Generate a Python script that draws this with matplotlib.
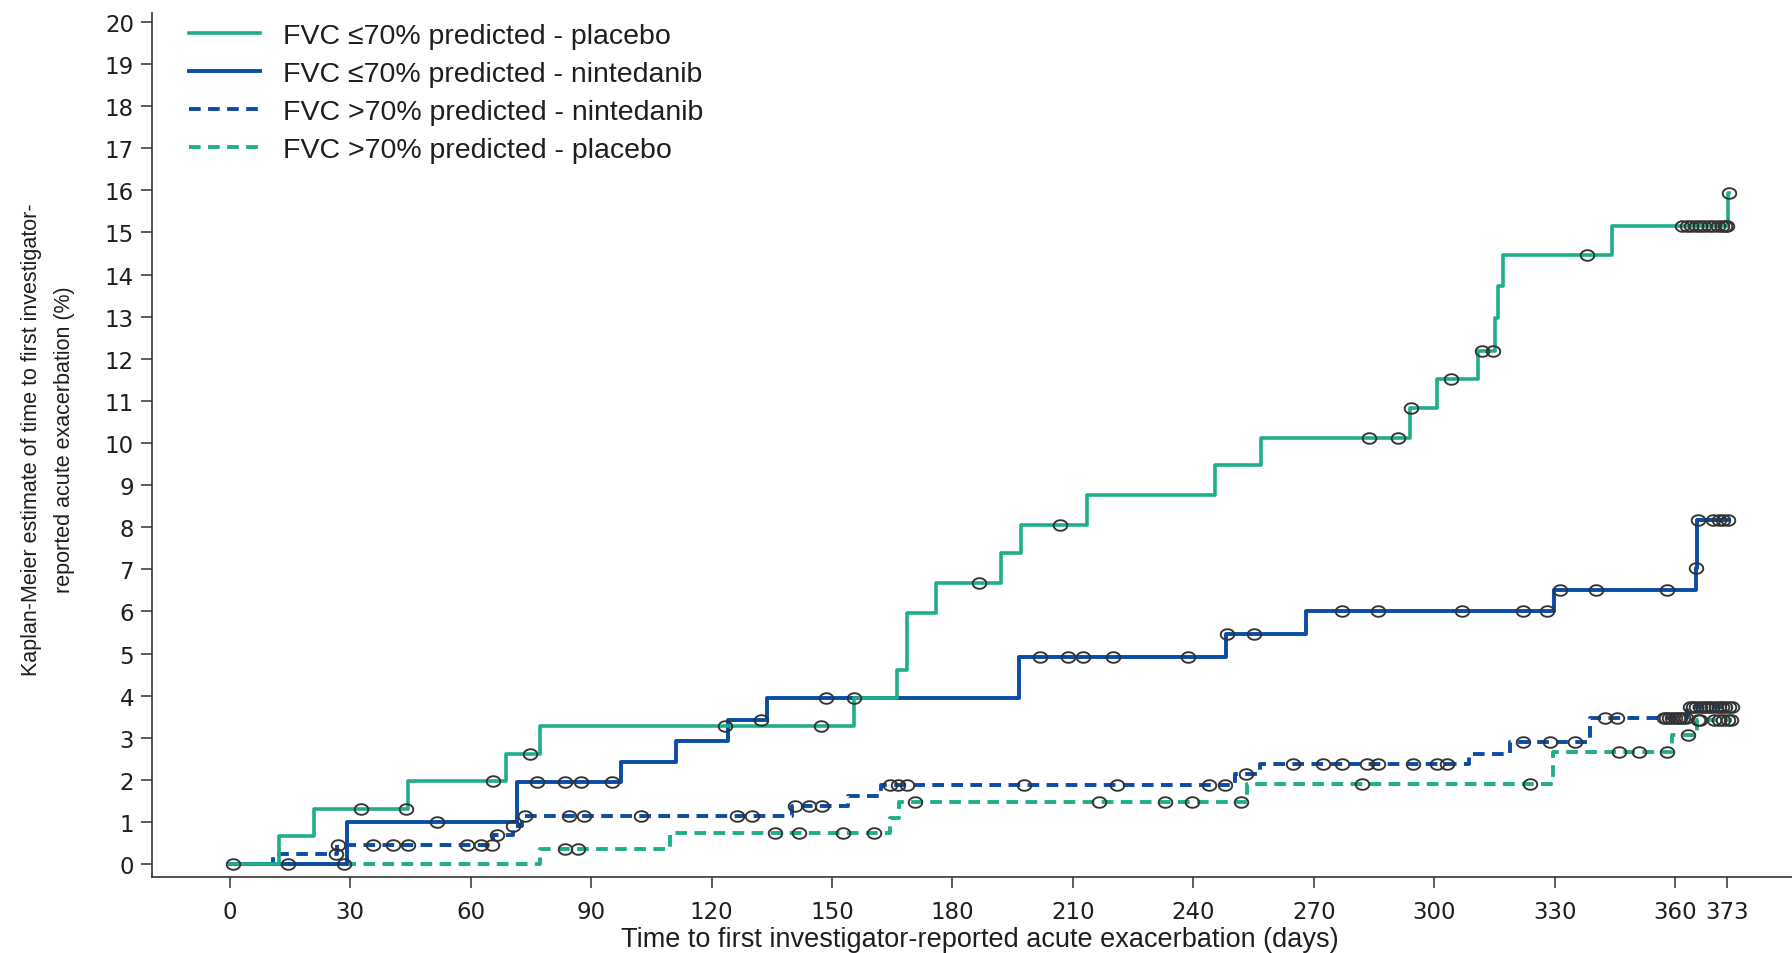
import numpy as np
import matplotlib
matplotlib.use("Agg")
import matplotlib.pyplot as plt
from matplotlib import font_manager
from matplotlib.path import Path

# step times (days) and cumulative KM estimate (%) after each step
PBO_LOW_T = [0, 12.2, 20.9, 44.4, 68.8, 77.4, 155.5, 166.3, 168.8, 176.0, 192.0, 197.0,
             213.4, 245.4, 256.8, 294.0, 300.8, 310.8, 315.1, 316.0, 317.2, 344.2, 373.2]
PBO_LOW_V = [0, 0.66, 1.31, 1.97, 2.62, 3.29, 3.95, 4.62, 5.96, 6.68, 7.38, 8.06,
             8.77, 9.48, 10.12, 10.82, 11.53, 12.18, 12.97, 13.73, 14.46, 15.15, 15.93]
PBO_LOW_C = [32.7, 43.8, 65.7, 74.7, 123.4, 147.2, 155.6, 186.5, 206.9, 283.8, 290.9, 294.1,
             304.2, 311.8, 314.6, 338.0, 361.8, 362.9, 364.0, 365.1, 366.2, 367.3, 368.4,
             369.5, 370.6, 371.6, 372.4, 373.0, 373.3]
PBO_LOW_END = 373.3

NIN_LOW_T = [0, 29.2, 71.5, 97.4, 111.1, 124.1, 133.8, 196.7, 248.1, 268.1, 329.8, 365.2, 365.5]
NIN_LOW_V = [0, 0.99, 1.94, 2.43, 2.93, 3.43, 3.95, 4.92, 5.47, 6.00, 6.51, 7.03, 8.17]
NIN_LOW_C = [51.6, 76.5, 83.5, 87.5, 95.1, 132.4, 148.6, 201.8, 208.7, 212.6, 220.0, 238.7,
             248.3, 255.1, 277.0, 286.1, 306.8, 322.0, 328.0, 331.2, 340.2, 357.9, 365.3,
             365.8, 369.5, 370.8, 372.0, 373.2]
NIN_LOW_END = 373.5

NIN_HIGH_T = [0, 10.9, 26.8, 65.5, 70.5, 72.7, 140.0, 154.1, 162.2, 250.4, 256.6, 308.7,
              318.9, 338.8, 363.0]
NIN_HIGH_V = [0, 0.24, 0.46, 0.70, 0.91, 1.15, 1.39, 1.61, 1.88, 2.13, 2.38, 2.62,
              2.90, 3.46, 3.74]
NIN_HIGH_C = [0.7, 26.6, 27.0, 35.6, 40.6, 44.3, 59.0, 62.6, 65.3, 66.5, 70.6, 73.5, 84.6,
              88.3, 102.5, 126.3, 130.0, 140.8, 144.4, 147.4, 164.5, 166.5, 168.8, 197.8,
              220.9, 244.0, 247.9, 253.2, 264.9, 272.2, 277.0, 283.2, 286.1, 294.8, 300.6,
              303.3, 322.0, 328.8, 335.1, 342.5, 345.4, 357.1, 357.8, 358.5, 359.2, 359.9,
              360.6, 361.3, 362.0, 362.7, 363.7, 364.5, 365.3, 366.1, 366.9, 367.7, 368.5,
              369.3, 370.1, 370.9, 371.7, 372.5, 373.3, 374.1]
NIN_HIGH_END = 374.2

PBO_HIGH_T = [0, 77.3, 109.7, 164.5, 166.7, 253.3, 329.7, 359.2, 365.4]
PBO_HIGH_V = [0, 0.36, 0.73, 1.10, 1.48, 1.90, 2.67, 3.07, 3.42]
PBO_HIGH_C = [14.6, 28.5, 83.5, 86.8, 135.8, 141.9, 152.8, 160.5, 170.7, 216.5, 233.0,
              239.6, 251.8, 281.9, 323.9, 346.1, 351.0, 358.0, 363.3, 365.7, 366.3,
              369.6, 370.8, 372.0, 373.2, 374.0]
PBO_HIGH_END = 374.2

LABELS = ["FVC \u226470% predicted - placebo", "FVC \u226470% predicted - nintedanib",
          "FVC >70% predicted - nintedanib", "FVC >70% predicted - placebo"]
XTICKS = [0, 30, 60, 90, 120, 150, 180, 210, 240, 270, 300, 330, 360, 373]
YTICKS = list(range(0, 21))

GREEN = "#1fae8b"
BLUE = "#0a4ca3"
DASH = (0, (3.0, 1.9))

names = {f.name for f in font_manager.fontManager.ttflist}
narrow = "Liberation Sans Narrow" if "Liberation Sans Narrow" in names else "Liberation Sans"
plt.rcParams["font.family"] = ["Liberation Sans", "DejaVu Sans"]

# slightly wide ellipse used for censor marks
th = np.linspace(0, 2 * np.pi, 41)
ellipse = Path(np.column_stack([np.cos(th), 0.78 * np.sin(th)]))

fig = plt.figure(figsize=(17.92, 9.54), dpi=100)
ax = fig.add_axes([152 / 1792, 1 - 877.7 / 954, 1 - 152 / 1792, (877.7 - 14) / 954])

series = [
    (PBO_LOW_T, PBO_LOW_V, PBO_LOW_C, PBO_LOW_END, GREEN, "-", 2.6),
    (NIN_LOW_T, NIN_LOW_V, NIN_LOW_C, NIN_LOW_END, BLUE, "-", 2.8),
    (NIN_HIGH_T, NIN_HIGH_V, NIN_HIGH_C, NIN_HIGH_END, BLUE, DASH, 2.8),
    (PBO_HIGH_T, PBO_HIGH_V, PBO_HIGH_C, PBO_HIGH_END, GREEN, DASH, 2.8),
]
zorders = [4, 3, 2, 2]
handles = []
for (t, v, c, end, col, ls, lw), lab, z in zip(series, LABELS, zorders):
    tt = np.array(t + [end])
    vv = np.array(v + [v[-1]])
    h, = ax.step(tt, vv, where="post", color=col, ls=ls, lw=lw, label=lab, zorder=z)
    handles.append(h)

for t, v, c, end, col, ls, lw in series:
    idx = np.searchsorted(np.array(t), np.array(c), side="right") - 1
    cy = np.array(v)[idx]
    ax.plot(c, cy, ls="none", marker=ellipse, ms=9.8, mfc="none", mec="#333333",
            mew=1.35, zorder=6)

ax.set_xlim(-19.35, 389.1)
ax.set_ylim(-0.297, 20.21)
ax.set_xticks(XTICKS)
ax.set_yticks(YTICKS)
ax.tick_params(axis="both", direction="out", length=8, width=1.1, color="#333333",
               labelsize=16.5, labelcolor="#1e1e1e")
ax.tick_params(axis="x", pad=9)
ax.tick_params(axis="y", pad=5)
for lbl in ax.get_xticklabels() + ax.get_yticklabels():
    lbl.set_family("DejaVu Sans")
for s in ["top", "right"]:
    ax.spines[s].set_visible(False)
for s in ["left", "bottom"]:
    ax.spines[s].set_linewidth(1.2)
    ax.spines[s].set_color("#333333")

leg = ax.legend(handles=handles, loc="upper left", bbox_to_anchor=(0.0223, 0.988),
                frameon=False, fontsize=20.5, handlelength=2.5, handletextpad=0.8,
                labelspacing=0.42, borderpad=0, borderaxespad=0)
for txt in leg.get_texts():
    txt.set_color("#1e1e1e")

fig.text(980 / 1792, 1.0 / 954,
         "Time to first investigator-reported acute exacerbation (days)",
         ha="center", va="bottom", fontsize=19.5, color="#1e1e1e")
fig.text(48 / 1792, 1 - 440 / 954,
         "Kaplan-Meier estimate of time to first investigator-\nreported acute exacerbation (%)",
         ha="center", va="center", rotation=90, multialignment="center",
         fontsize=15.5, family=narrow, linespacing=1.7, color="#1e1e1e")

fig.savefig("out.png", dpi=100)
